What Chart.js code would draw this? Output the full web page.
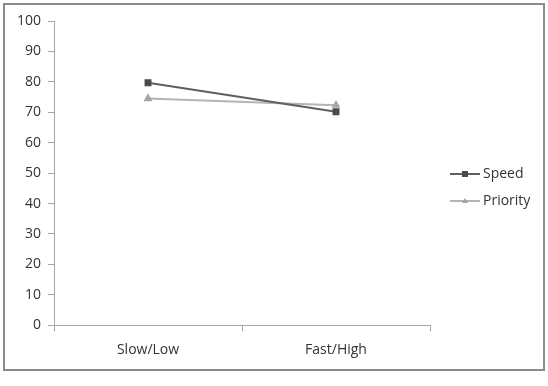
<!DOCTYPE html>
<html>
<head>
<meta charset="utf-8">
<script src="https://cdn.jsdelivr.net/npm/chart.js@4/dist/chart.umd.min.js"></script>
<style>
  html, body { margin: 0; padding: 0; background: #fff; }
  #wrap { position: relative; width: 548px; height: 386px; }
</style>
</head>
<body>
<div id="wrap"><canvas id="chart" width="548" height="386"></canvas></div>
<script>
const categories = ["Slow/Low", "Fast/High"];
const speedValues = [79.7, 70.2];
const priorityValues = [74.5, 72.3];
const yTicks = [0, 10, 20, 30, 40, 50, 60, 70, 80, 90, 100];

const FONT = "'Open Sans', 'Liberation Sans', sans-serif";
const TEXT = "#333333";
const AXIS = "#a6a6a6";

// outer frame + legend with line-and-marker samples, drawn like the Excel original
const framePlugin = {
    id: "frame",
    beforeDraw(chart) {
        const ctx = chart.ctx;
        ctx.save();
        ctx.fillStyle = "#fff";
        ctx.fillRect(0, 0, chart.width, chart.height);
        ctx.strokeStyle = "#8c8c8c";
        ctx.lineWidth = 2;
        ctx.strokeRect(4, 4, chart.width - 8, 366);
        ctx.restore();
    },
    afterDraw(chart) {
        const ctx = chart.ctx;
        const area = chart.chartArea;
        const x0 = area.right + 20;
        let y = 174;
        ctx.save();
        chart.data.datasets.forEach((ds) => {
            ctx.strokeStyle = ds.borderColor;
            ctx.lineWidth = 2;
            ctx.beginPath();
            ctx.moveTo(x0, y);
            ctx.lineTo(x0 + 30, y);
            ctx.stroke();
            ctx.fillStyle = ds.pointBackgroundColor;
            const cx = x0 + 15;
            if (ds.pointStyle === "rect") {
                ctx.fillRect(cx - 3, y - 3, 6, 6);
            } else {
                ctx.beginPath();
                ctx.moveTo(cx, y - 3);
                ctx.lineTo(cx + 3, y + 2);
                ctx.lineTo(cx - 3, y + 2);
                ctx.closePath();
                ctx.fill();
            }
            ctx.fillStyle = TEXT;
            ctx.font = "14px " + FONT;
            ctx.textBaseline = "middle";
            ctx.fillText(ds.label, x0 + 33, y);
            y += 27;
        });
        ctx.restore();
    }
};

new Chart(document.getElementById("chart"), {
    type: "line",
    data: {
        labels: categories,
        datasets: [
            {
                label: "Speed",
                data: speedValues,
                borderColor: "#5f5f5f",
                backgroundColor: "#4a4a4a",
                pointBackgroundColor: "#4a4a4a",
                pointBorderColor: "#4a4a4a",
                pointStyle: "rect",
                pointRadius: 3.5,
                borderWidth: 2,
                tension: 0,
            },
            {
                label: "Priority",
                data: priorityValues,
                borderColor: "#b4b4b4",
                backgroundColor: "#a6a6a6",
                pointBackgroundColor: "#a6a6a6",
                pointBorderColor: "#a6a6a6",
                pointStyle: "triangle",
                pointRadius: 3.2,
                borderWidth: 2,
                tension: 0,
            },
        ],
    },
    options: {
        responsive: false,
        animation: false,
        layout: { padding: { top: 21, right: 118, bottom: 18, left: 10 } },
        plugins: {
            legend: { display: false },
            tooltip: { enabled: false },
        },
        scales: {
            x: {
                offset: true,
                grid: {
                    offset: true,
                    drawOnChartArea: false,
                    color: AXIS,
                    tickLength: 6,
                },
                border: { color: AXIS, width: 1 },
                ticks: { color: TEXT, font: { family: FONT, size: 14 }, padding: 10 },
            },
            y: {
                min: 0,
                max: 100,
                afterBuildTicks: (axis) => {
                    axis.ticks = yTicks.map((v) => ({ value: v }));
                },
                grid: {
                    drawOnChartArea: false,
                    color: AXIS,
                    tickLength: 6,
                },
                border: { color: AXIS, width: 1 },
                ticks: { color: TEXT, font: { family: FONT, size: 14 }, padding: 7 },
            },
        },
    },
    plugins: [framePlugin],
});
</script>
</body>
</html>
